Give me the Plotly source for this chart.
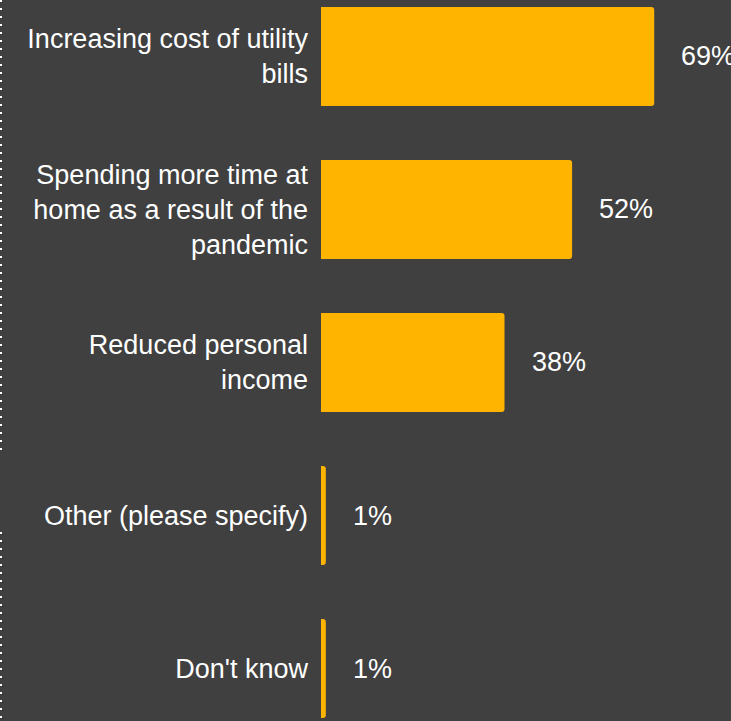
import plotly.graph_objects as go

# Survey responses: reasons cited, share of respondents (%)
categories = [
    "Increasing cost of utility<br>bills",
    "Spending more time at<br>home as a result of the<br>pandemic",
    "Reduced personal<br>income",
    "Other (please specify)",
    "Don't know",
]
values = [69, 52, 38, 1, 1]
value_labels = [f"{v}%" for v in values]

BG = "#404040"
BAR = "#FFB400"
FONT = "Liberation Sans, Arial, sans-serif"
FS = 27

W, H = 731, 721
ML = 321

fig = go.Figure(
    go.Bar(
        x=values,
        y=categories,
        orientation="h",
        width=0.647,
        marker=dict(color=BAR, line=dict(width=0), cornerradius=3),
        hoverinfo="skip",
    )
)

# value labels set a little to the right of each bar end
for cat, v, lab in zip(categories, values, value_labels):
    fig.add_annotation(
        x=v, y=cat, text=lab, showarrow=False,
        xanchor="left", yanchor="middle", xshift=25,
        font=dict(family=FONT, size=FS, color="white"),
    )

# dotted frame edge on the far left
plot_w = W - ML
x_edge = (1 - ML) / plot_w
for y0, y1 in [(1.0, 1 - 456 / H), (1 - 532 / H, 0.0)]:
    fig.add_shape(
        type="line", xref="paper", yref="paper",
        x0=x_edge, x1=x_edge, y0=y0, y1=y1,
        line=dict(color="white", width=2, dash="2px,6px"),
    )

fig.update_layout(
    width=W, height=H,
    margin=dict(l=ML, r=0, t=0, b=0, autoexpand=False),
    paper_bgcolor=BG, plot_bgcolor=BG,
    showlegend=False,
    xaxis=dict(range=[0, 84.9], visible=False, showgrid=False, zeroline=False,
               fixedrange=True, automargin=False),
    yaxis=dict(
        range=[4.343, -0.369],
        showgrid=False, zeroline=False, showline=False, ticks="",
        ticklabelstandoff=12, automargin=False,
        tickfont=dict(family=FONT, size=FS, color="white"),
        fixedrange=True,
    ),
)

fig.write_html("out.html", config={"displayModeBar": False})
